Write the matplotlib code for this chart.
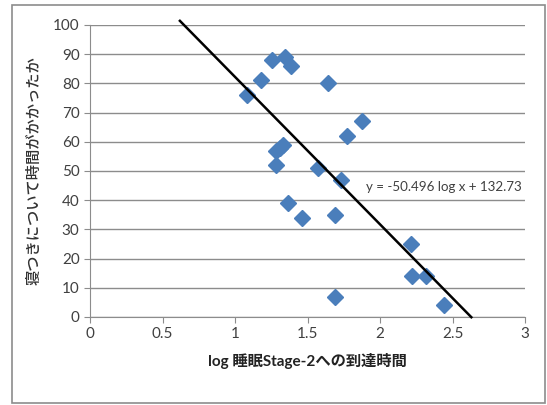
import matplotlib
matplotlib.use("Agg")
import matplotlib.pyplot as plt
from matplotlib.patches import Rectangle
import numpy as np

plt.rcParams['font.family'] = ['Lato', 'Noto Sans CJK JP', 'DejaVu Sans']

log_x = [1.08, 1.18, 1.256, 1.348, 1.384, 1.643, 1.875, 1.771, 1.33, 1.31, 1.28,
         1.283, 1.571, 1.733, 1.364, 1.465, 1.693, 1.693, 2.211, 2.218, 2.317, 2.44]
y_vals = [76, 81, 88, 89, 86, 80, 67, 62, 59, 58, 57,
          52, 51, 47, 39, 34, 35, 7, 25, 14, 14, 4]

slope = -50.496
intercept = 132.73
trend_x = [0.62, 2.63]

xticks = [0, 0.5, 1, 1.5, 2, 2.5, 3]
xtick_labels = ['0', '0.5', '1', '1.5', '2', '2.5', '3']
yticks = [0, 10, 20, 30, 40, 50, 60, 70, 80, 90, 100]

fig = plt.figure(figsize=(5.47, 4.05), dpi=100)
fig.patches.append(Rectangle((12/547, 2/405), 533/547, 398/405, transform=fig.transFigure,
                             fill=False, edgecolor='#8c8c8c', linewidth=1.2))
ax = fig.add_axes([90/547, 1-317/405, 435/547, 292/405])

ax.set_xlim(0, 3)
ax.set_ylim(0, 100)
ax.set_yticks(yticks)
ax.set_xticks(xticks)
ax.set_xticklabels(xtick_labels)
ax.yaxis.grid(True, color='#8c8c8c', linewidth=1.0)
ax.set_axisbelow(True)
for s in ['top', 'right']:
    ax.spines[s].set_visible(False)
for s in ['left', 'bottom']:
    ax.spines[s].set_color('#8c8c8c')
ax.tick_params(axis='both', colors='#8c8c8c', labelcolor='#404040', labelsize=11, length=4)

ax.plot(log_x, y_vals, linestyle='none', marker='D', markersize=8,
        color='#4a7ebb', markeredgecolor='#4a7ebb', zorder=3)

tx = np.array(trend_x)
ax.plot(tx, slope * tx + intercept, color='black', linewidth=1.8, clip_on=False, zorder=4)

ax.text(1.905, 44.5, 'y = -50.496 log x + 132.73', fontsize=9.6, color='#404040',
        ha='left', va='center')

ax.set_xlabel('log 睡眠Stage-2への到達時間', fontsize=11, fontweight='bold',
              color='#222222', labelpad=8)
ax.set_ylabel('寝つきについて時間がかかったか', fontsize=11, fontweight='medium',
              color='#333333', labelpad=8)

fig.savefig('out.png', dpi=100)
